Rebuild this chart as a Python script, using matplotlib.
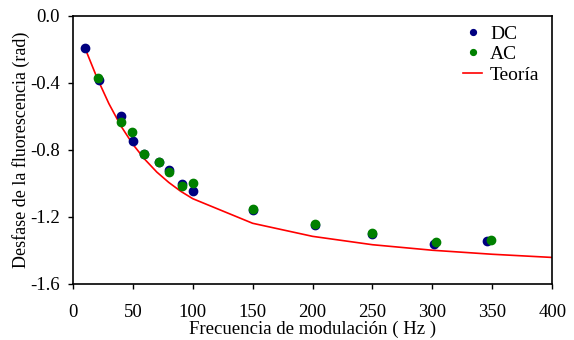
import numpy as np
import matplotlib.pyplot as plt

plt.rcParams['font.family'] = ['Liberation Serif', 'DejaVu Serif']

# measured phase shift, DC and AC detection
f_dc = [10, 21.5, 40, 50.5, 59.5, 71.5, 80.5, 91, 100, 150, 202, 250, 301, 346]
phi_dc = [-0.19, -0.385, -0.60, -0.745, -0.825, -0.875, -0.92, -1.005, -1.045,
          -1.16, -1.25, -1.30, -1.36, -1.345]

f_ac = [21, 40, 49.5, 59.5, 71.5, 80.5, 91, 100, 150, 202, 250, 303, 349]
phi_ac = [-0.37, -0.635, -0.69, -0.825, -0.87, -0.93, -1.015, -0.995, -1.155,
          -1.245, -1.297, -1.35, -1.34]

# theoretical curve
f_th = [10, 20, 30, 40, 50, 60, 70, 80, 90, 100, 150, 200, 250, 300, 350, 400]
phi_th = [-0.190, -0.367, -0.523, -0.656, -0.766, -0.856, -0.932, -0.994, -1.047,
          -1.091, -1.238, -1.316, -1.366, -1.399, -1.423, -1.442]

xticks = [0, 50, 100, 150, 200, 250, 300, 350, 400]
yticks = [0.0, -0.4, -0.8, -1.2, -1.6]

fig = plt.figure(figsize=(5.74, 3.4), dpi=100)
ax = fig.add_axes([0.127, 0.165, 0.835, 0.788])

ax.plot(f_th, phi_th, color='red', lw=1.2, label='Teoría', zorder=2)
ax.plot(f_dc, phi_dc, 'o', color='#000080', ms=6, mec='#000080', label='DC', zorder=3)
ax.plot(f_ac, phi_ac, 'o', color='#008000', ms=6, mec='#008000', label='AC', zorder=4)

ax.set_xlim(0, 400)
ax.set_ylim(-1.6, 0.0)
ax.set_xticks(xticks)
ax.set_yticks(yticks)
ax.set_yticklabels(['%.1f' % v for v in yticks])
ax.tick_params(direction='out', length=3.6, width=1, labelsize=13.5)
ax.tick_params(axis='x', pad=11)
ax.tick_params(axis='y', pad=6)
for s in ax.spines.values():
    s.set_linewidth(1.2)

ax.set_xlabel('Frecuencia de modulación ( Hz )', fontsize=13.5, labelpad=0)
ax.set_ylabel('Desfase de la fluorescencia (rad)', fontsize=13, labelpad=0)

h, l = ax.get_legend_handles_labels()
ax.legend([h[1], h[2], h[0]], [l[1], l[2], l[0]], loc='upper right', frameon=False,
          fontsize=14, markerscale=0.7, handlelength=1.0, handletextpad=0.4,
          labelspacing=0.15, borderaxespad=0.0, bbox_to_anchor=(0.99, 0.995))

fig.savefig('out.png', dpi=100)
